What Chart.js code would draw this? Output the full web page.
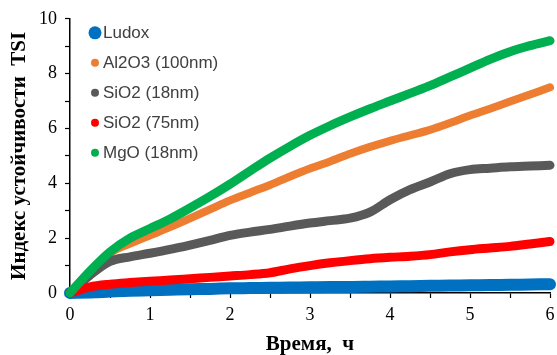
<!DOCTYPE html>
<html>
<head>
<meta charset="utf-8">
<script src="https://cdn.jsdelivr.net/npm/chart.js@4"></script>
<style>
  html, body { margin: 0; padding: 0; background: #fff; }
  canvas { display: block; }
</style>
</head>
<body>
<canvas id="grafico" width="557" height="355"></canvas>
<script>
// время, ч
const hours = [0, 0.25, 0.5, 0.75, 1, 1.25, 1.5, 1.75, 2, 2.25, 2.5, 2.75, 3,
  3.25, 3.5, 3.75, 4, 4.25, 4.5, 4.75, 5, 5.25, 5.5, 5.75, 6];

// индекс TSI по образцам
const ludox = [0, 0.02, 0.05, 0.08, 0.1, 0.12, 0.14, 0.15, 0.17, 0.18, 0.19, 0.2, 0.21,
  0.22, 0.22, 0.23, 0.24, 0.25, 0.26, 0.27, 0.28, 0.29, 0.3, 0.31, 0.32];
const al2o3 = [0, 0.78, 1.45, 1.8, 2.1, 2.4, 2.72, 3.05, 3.38, 3.66, 3.94, 4.25, 4.54,
  4.8, 5.08, 5.33, 5.55, 5.75, 5.95, 6.2, 6.47, 6.72, 6.98, 7.24, 7.5];
const sio2_18 = [0, 0.65, 1.15, 1.32, 1.45, 1.59, 1.75, 1.92, 2.1, 2.22, 2.32, 2.44, 2.55,
  2.64, 2.73, 2.95, 3.4, 3.77, 4.05, 4.35, 4.5, 4.55, 4.6, 4.63, 4.66];
const sio2_75 = [0, 0.22, 0.32, 0.38, 0.43, 0.47, 0.52, 0.57, 0.62, 0.67, 0.74, 0.88, 1.0,
  1.1, 1.18, 1.25, 1.3, 1.34, 1.4, 1.5, 1.58, 1.64, 1.7, 1.79, 1.88];
const mgo = [0, 0.8, 1.5, 2.0, 2.35, 2.7, 3.1, 3.52, 3.97, 4.45, 4.92, 5.35, 5.75,
  6.1, 6.42, 6.72, 7.0, 7.28, 7.56, 7.88, 8.2, 8.52, 8.8, 9.02, 9.2];

const seriesNames = ['Ludox', 'Al2O3 (100nm)', 'SiO2 (18nm)', 'SiO2 (75nm)', 'MgO (18nm)'];
const seriesValues = [ludox, al2o3, sio2_18, sio2_75, mgo];
const seriesColors = ['#0070C0', '#ED7D31', '#595959', '#FF0000', '#00B050'];
const lineWidths = [12, 8, 9, 9, 9];
const legendDots = [6.5, 4, 4, 4, 4];

const serif = '"Liberation Serif", "Times New Roman", serif';

// легенда внутри области графика, слева сверху
const innerLegend = {
  id: 'innerLegend',
  afterDraw(chart) {
    const ctx = chart.ctx;
    const area = chart.chartArea;
    ctx.save();
    ctx.font = '17px "Liberation Sans", Arial, sans-serif';
    ctx.textBaseline = 'middle';
    ctx.textAlign = 'left';
    chart.data.datasets.forEach((ds, i) => {
      const y = area.top + 14 + i * 30;
      const x = area.left + 25;
      ctx.fillStyle = ds.borderColor;
      ctx.beginPath();
      ctx.arc(x, y, ds.legendDot, 0, Math.PI * 2);
      ctx.fill();
      ctx.fillStyle = '#404040';
      ctx.fillText(ds.label, x + 8, y + 1);
    });
    ctx.restore();
  }
};

const datasets = seriesNames.map((name, i) => ({
  label: name,
  data: hours.map((h, k) => ({ x: h, y: seriesValues[i][k] })),
  borderColor: seriesColors[i],
  backgroundColor: seriesColors[i],
  borderWidth: lineWidths[i],
  borderCapStyle: 'round',
  borderJoinStyle: 'round',
  cubicInterpolationMode: 'monotone',
  pointRadius: 0,
  clip: false,
  order: seriesNames.length - i,
  legendDot: legendDots[i]
}));

new Chart(document.getElementById('grafico'), {
  type: 'line',
  data: { datasets },
  plugins: [innerLegend],
  options: {
    responsive: false,
    animation: false,
    devicePixelRatio: 1,
    layout: { padding: { top: 16, right: 7, left: 0, bottom: 0 } },
    plugins: { legend: { display: false }, tooltip: { enabled: false } },
    scales: {
      x: {
        type: 'linear',
        min: 0,
        max: 6,
        afterFit(scale) {
          scale.height = 62;
          scale.paddingLeft = 0;
          scale.paddingRight = 0;
        },
        border: { color: '#000', width: 1.5 },
        grid: { drawOnChartArea: false, drawTicks: true, tickLength: 5, color: '#000', tickWidth: 1.2 },
        ticks: {
          stepSize: 0.5,
          autoSkip: false,
          maxRotation: 0,
          padding: 6,
          color: '#000',
          font: { family: serif, size: 18 },
          callback: v => Number.isInteger(v) ? v : ''
        },
        title: {
          display: true,
          text: 'Время,  ч',
          color: '#000',
          font: { family: serif, size: 21, weight: 'bold', lineHeight: 1 },
          padding: { top: 0, bottom: 0 }
        }
      },
      y: {
        min: 0,
        max: 10,
        afterFit(scale) { scale.width = 70; },
        border: { color: '#000', width: 1.5 },
        grid: { drawOnChartArea: false, drawTicks: true, tickLength: 5, color: '#000', tickWidth: 1.2 },
        ticks: {
          stepSize: 1,
          autoSkip: false,
          padding: 8,
          color: '#000',
          font: { family: serif, size: 18 },
          callback: v => v % 2 === 0 ? v : ''
        },
        title: {
          display: true,
          text: 'Индекс устойчивости  TSI',
          color: '#000',
          font: { family: serif, size: 21, weight: 'bold' },
          padding: { top: 7, bottom: 0 }
        }
      }
    }
  }
});
</script>
</body>
</html>
